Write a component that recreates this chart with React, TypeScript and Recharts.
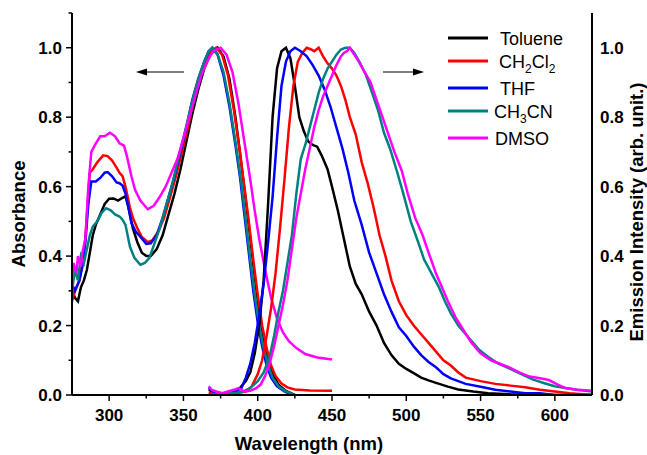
import React from "react";
import { LineChart, Line, XAxis, YAxis } from "recharts";

// [wavelength nm, normalized value]
const tolueneAbs = [
  [275, 0.30], [277, 0.28], [279, 0.27], [281, 0.31], [283, 0.33], [285, 0.36], [287, 0.41], [289, 0.46],
  [291, 0.49], [294, 0.52], [297, 0.55], [300, 0.565], [303, 0.566], [306, 0.56], [309, 0.568], [311, 0.572],
  [313, 0.54], [316, 0.48], [319, 0.44], [322, 0.41], [325, 0.40], [328, 0.40], [332, 0.42], [336, 0.46],
  [340, 0.52], [344, 0.58], [348, 0.65], [352, 0.73], [356, 0.81], [360, 0.88], [364, 0.94], [368, 0.98],
  [373, 1.0], [377, 0.975], [381, 0.91], [385, 0.80], [388, 0.70], [392, 0.56], [395, 0.45], [398, 0.34],
  [401, 0.24], [404, 0.16], [407, 0.10], [410, 0.06], [414, 0.03], [419, 0.012], [425, 0.0],
];
const dcmAbs = [
  [275, 0.27], [277, 0.30], [280, 0.33], [282, 0.38], [284, 0.45], [286, 0.58], [287, 0.64], [289, 0.65],
  [292, 0.67], [296, 0.69], [299, 0.688], [302, 0.675], [305, 0.655], [307, 0.64], [309, 0.63], [311, 0.60],
  [314, 0.54], [316, 0.51], [319, 0.48], [322, 0.455], [326, 0.44], [329, 0.445], [333, 0.47], [337, 0.51],
  [341, 0.57], [345, 0.63], [349, 0.70], [353, 0.77], [357, 0.85], [361, 0.91], [365, 0.96], [369, 0.99],
  [372, 1.0], [376, 0.98], [380, 0.92], [384, 0.82], [388, 0.70], [391, 0.60], [394, 0.50], [397, 0.39],
  [400, 0.29], [403, 0.20], [406, 0.135], [409, 0.085], [412, 0.055], [416, 0.033], [420, 0.022],
  [425, 0.016], [435, 0.013], [450, 0.012],
];
const thfAbs = [
  [275, 0.32], [277, 0.30], [280, 0.33], [282, 0.37], [284, 0.44], [286, 0.55], [288, 0.615], [291, 0.615],
  [294, 0.625], [297, 0.64], [299, 0.642], [302, 0.63], [305, 0.612], [307, 0.61], [309, 0.603], [311, 0.58],
  [313, 0.54], [315, 0.495], [318, 0.47], [321, 0.456], [325, 0.435], [328, 0.437], [332, 0.46], [336, 0.51],
  [340, 0.57], [344, 0.63], [348, 0.70], [352, 0.77], [356, 0.85], [360, 0.91], [364, 0.96], [367, 0.99],
  [369.5, 1.0], [373, 0.98], [377, 0.92], [381, 0.83], [385, 0.72], [388, 0.63], [391, 0.52], [394, 0.41],
  [397, 0.30], [400, 0.21], [403, 0.14], [406, 0.085], [409, 0.05], [413, 0.025], [418, 0.01], [423, 0.0],
];
const mecnAbs = [
  [275, 0.30], [277, 0.36], [279, 0.33], [281, 0.40], [283, 0.38], [285, 0.42], [287, 0.46], [289, 0.485],
  [292, 0.50], [295, 0.525], [298, 0.538], [301, 0.532], [304, 0.52], [307, 0.514], [309, 0.505], [311, 0.49],
  [314, 0.427], [317, 0.395], [321, 0.375], [324, 0.38], [327, 0.394], [330, 0.43], [334, 0.48], [338, 0.54],
  [342, 0.60], [346, 0.67], [350, 0.74], [355, 0.83], [360, 0.91], [364, 0.96], [367, 0.99], [369.5, 1.0],
  [373, 0.98], [377, 0.93], [381, 0.84], [385, 0.73], [389, 0.61], [392, 0.50], [395, 0.39], [398, 0.29],
  [401, 0.20], [404, 0.135], [407, 0.085], [410, 0.05], [414, 0.025], [419, 0.01], [425, 0.0],
];
const dmsoAbs = [
  [275, 0.33], [276, 0.38], [278, 0.35], [279, 0.40], [281, 0.37], [282, 0.41], [284, 0.45], [286, 0.60],
  [288, 0.70], [290.5, 0.72], [294, 0.745], [297, 0.745], [300.5, 0.755], [304, 0.745], [307, 0.725],
  [310, 0.718], [312, 0.687], [315, 0.63], [317.5, 0.59], [321, 0.56], [326, 0.535], [330, 0.545],
  [334, 0.57], [338, 0.60], [342, 0.64], [346, 0.68], [350, 0.74], [354, 0.80], [358, 0.86], [362, 0.92],
  [366, 0.96], [370, 0.99], [375, 1.0], [379, 0.98], [383, 0.93], [387, 0.84], [391, 0.73], [395, 0.62],
  [398, 0.53], [401, 0.45], [405, 0.36], [409, 0.28], [413, 0.22], [417, 0.18], [421, 0.155], [426, 0.135],
  [432, 0.118], [440, 0.108], [450, 0.102],
];

const tolueneEm = [
  [367, 0.015], [372, 0.005], [378, 0.005], [384, 0.01], [388, 0.02], [392, 0.04], [395, 0.065], [398, 0.12],
  [401, 0.2], [404, 0.33], [407, 0.55], [410, 0.8], [413, 0.94], [416, 0.99], [419, 1.0], [422, 0.97],
  [425, 0.89], [428, 0.8], [431, 0.76], [434, 0.73], [437, 0.72], [440, 0.715], [443, 0.69], [447, 0.65],
  [450, 0.6], [454, 0.53], [458, 0.45], [462, 0.37], [466, 0.32], [470, 0.29], [475, 0.24], [480, 0.2],
  [485, 0.15], [490, 0.115], [495, 0.09], [500, 0.075], [505, 0.063], [510, 0.05], [515, 0.042],
  [520, 0.035], [528, 0.024], [535, 0.016], [545, 0.01], [555, 0.005], [570, 0.002], [590, 0.0], [625, 0.0],
];
const dcmEm = [
  [367, 0.005], [375, 0.005], [385, 0.005], [392, 0.01], [396, 0.025], [400, 0.06], [403, 0.1], [406, 0.17],
  [409, 0.25], [412, 0.35], [415, 0.48], [418, 0.62], [421, 0.77], [424, 0.89], [427, 0.96], [430, 0.985],
  [433, 1.0], [436, 0.995], [438, 0.99], [441, 1.0], [444, 0.975], [447, 0.955], [450, 0.94], [453, 0.92],
  [456, 0.89], [459, 0.85], [462, 0.8], [466, 0.75], [470, 0.67], [474, 0.61], [478, 0.54], [482, 0.46],
  [486, 0.4], [490, 0.33], [495, 0.27], [500, 0.23], [505, 0.2], [510, 0.175], [515, 0.15], [520, 0.125],
  [525, 0.1], [530, 0.085], [535, 0.065], [540, 0.05], [550, 0.04], [560, 0.032], [570, 0.027],
  [580, 0.022], [590, 0.015], [600, 0.01], [610, 0.005], [625, 0.0],
];
const thfEm = [
  [367, 0.02], [370, 0.01], [375, 0.005], [380, 0.005], [385, 0.01], [389, 0.02], [392, 0.05], [395, 0.09],
  [398, 0.15], [401, 0.23], [404, 0.32], [407, 0.44], [410, 0.57], [413, 0.74], [416, 0.89], [419, 0.96],
  [422, 0.99], [425, 1.0], [429, 0.99], [433, 0.975], [437, 0.95], [441, 0.92], [445, 0.88], [449, 0.83],
  [453, 0.77], [457, 0.71], [461, 0.64], [465, 0.56], [470, 0.49], [475, 0.41], [480, 0.35], [485, 0.29],
  [490, 0.24], [495, 0.195], [500, 0.17], [505, 0.14], [510, 0.115], [515, 0.095], [520, 0.08],
  [525, 0.06], [530, 0.048], [540, 0.032], [550, 0.024], [560, 0.015], [570, 0.01], [580, 0.005],
  [590, 0.005], [600, 0.0], [625, 0.0],
];
const mecnEm = [
  [367, 0.0], [375, 0.005], [385, 0.005], [390, 0.01], [395, 0.02], [400, 0.04], [404, 0.065], [408, 0.11],
  [411, 0.17], [414, 0.24], [417, 0.3], [420, 0.38], [423, 0.46], [426, 0.58], [429, 0.68], [432, 0.72],
  [435, 0.77], [438, 0.82], [441, 0.87], [444, 0.91], [447, 0.94], [450, 0.96], [453, 0.98], [456, 0.995],
  [459, 1.0], [462, 1.0], [465, 0.985], [469, 0.955], [473, 0.92], [477, 0.87], [481, 0.82], [485, 0.755],
  [489, 0.71], [494, 0.64], [498, 0.58], [503, 0.5], [508, 0.44], [512, 0.39], [517, 0.35], [522, 0.31],
  [526, 0.27], [530, 0.235], [535, 0.2], [540, 0.175], [545, 0.15], [549, 0.13], [555, 0.11], [562, 0.09],
  [570, 0.075], [576, 0.063], [585, 0.045], [593, 0.034], [600, 0.025], [607, 0.02], [615, 0.015],
  [625, 0.01],
];
const dmsoEm = [
  [367, 0.025], [369, 0.015], [372, 0.01], [376, 0.005], [380, 0.01], [384, 0.015], [387, 0.02], [391, 0.01],
  [395, 0.012], [399, 0.02], [402, 0.03], [405, 0.055], [408, 0.09], [411, 0.14], [414, 0.2], [417, 0.26],
  [420, 0.33], [423, 0.42], [426, 0.51], [429, 0.58], [432, 0.65], [435, 0.71], [438, 0.77], [441, 0.82],
  [444, 0.86], [447, 0.89], [450, 0.92], [453, 0.95], [456, 0.975], [458, 0.985], [460, 0.99], [462, 1.0],
  [465, 0.98], [468, 0.96], [472, 0.93], [476, 0.9], [480, 0.85], [484, 0.8], [488, 0.75], [492, 0.7],
  [497, 0.645], [501, 0.58], [506, 0.51], [511, 0.46], [515, 0.41], [520, 0.35], [524, 0.31], [528, 0.27],
  [533, 0.225], [538, 0.19], [544, 0.15], [550, 0.12], [557, 0.1], [563, 0.09], [569, 0.08], [576, 0.065],
  [583, 0.053], [590, 0.048], [596, 0.043], [602, 0.03], [607, 0.02], [615, 0.015], [625, 0.012],
];

const xTicks = [325, 350, 375, 400, 425, 450, 475, 500, 525, 550, 575, 600, 300];
const yTicks = [0, 0.1, 0.2, 0.3, 0.4, 0.5, 0.6, 0.7, 0.8, 0.9, 1.0, 1.1];
const yLabels = [0, 0.2, 0.4, 0.6, 0.8, 1.0];

const FONT = "Arial, 'Liberation Sans', sans-serif";

const series = [
  { name: "Toluene", color: "#000000", abs: tolueneAbs, em: tolueneEm },
  { name: "CH2Cl2", color: "#ff0000", abs: dcmAbs, em: dcmEm },
  { name: "THF", color: "#0000ff", abs: thfAbs, em: thfEm },
  { name: "CH3CN", color: "#008080", abs: mecnAbs, em: mecnEm },
  { name: "DMSO", color: "#ff00ff", abs: dmsoAbs, em: dmsoEm },
];

const toPoints = (arr: number[][]) => arr.map(([x, y]) => ({ x, y }));

function XTick({ x, y, payload }: any) {
  const major = payload.value % 50 === 0;
  return (
    <g>
      <line x1={x} x2={x} y1={y} y2={y + (major ? 6 : 3.5)} stroke="#000" strokeWidth={1.5} />
      {major && (
        <text x={x} y={y + 26} textAnchor="middle" fontSize={17} fontWeight="bold" fontFamily={FONT} fill="#000">
          {payload.value}
        </text>
      )}
    </g>
  );
}

function LeftTick({ x, y, payload }: any) {
  const v = payload.value;
  const major = yLabels.some((l) => Math.abs(l - v) < 1e-6);
  return (
    <g>
      <line x1={x - (major ? 6 : 3.5)} x2={x} y1={y} y2={y} stroke="#000" strokeWidth={1.5} />
      {major && (
        <text x={x - 10} y={y + 6} textAnchor="end" fontSize={17} fontWeight="bold" fontFamily={FONT} fill="#000">
          {v.toFixed(1)}
        </text>
      )}
    </g>
  );
}

function RightTick({ x, y, payload }: any) {
  return (
    <text x={x + 8} y={y + 6} textAnchor="start" fontSize={17} fontWeight="bold" fontFamily={FONT} fill="#000">
      {payload.value.toFixed(1)}
    </text>
  );
}

function Arrow({ x1, x2, y }: { x1: number; x2: number; y: number }) {
  const dir = x2 > x1 ? 1 : -1;
  return (
    <g>
      <line x1={x1} x2={x2 - dir * 8} y1={y} y2={y} stroke="#000" strokeWidth={1.2} />
      <polygon points={`${x2},${y} ${x2 - dir * 11},${y - 3.5} ${x2 - dir * 11},${y + 3.5}`} fill="#000" />
    </g>
  );
}

function LegendLabel({ name, x, y }: { name: string; x: number; y: number }) {
  const sub = (d: string) => (
    <>
      <tspan dy={5} fontSize={12}>{d}</tspan>
      <tspan dy={-5}></tspan>
    </>
  );
  let content: React.ReactNode = name;
  if (name === "CH2Cl2")
    content = (
      <>
        CH<tspan dy={5} fontSize={12}>2</tspan>
        <tspan dy={-5}>Cl</tspan>
        <tspan dy={5} fontSize={12}>2</tspan>
      </>
    );
  if (name === "CH3CN")
    content = (
      <>
        CH<tspan dy={5} fontSize={12}>3</tspan>
        <tspan dy={-5}>CN</tspan>
      </>
    );
  void sub;
  return (
    <text x={x} y={y} fontSize={18} fontFamily={FONT} fill="#000">
      {content}
    </text>
  );
}

const legendRows = [
  { y: 38, tx: 500 },
  { y: 61, tx: 499 },
  { y: 88, tx: 500 },
  { y: 111, tx: 494 },
  { y: 138, tx: 495 },
];

export default function App() {
  return (
    <div style={{ position: "absolute", left: 0, top: 0, width: 647, height: 455, background: "#fff" }}>
      <LineChart width={647} height={455} margin={{ top: 13, right: 0, bottom: 0, left: 0 }}>
        <XAxis
          dataKey="x"
          type="number"
          domain={[275, 625]}
          allowDataOverflow
          ticks={xTicks}
          interval={0}
          height={60}
          tickSize={0}
          tickMargin={0}
          tickLine={false}
          axisLine={{ stroke: "#000", strokeWidth: 2 }}
          tick={<XTick />}
        />
        <YAxis
          yAxisId="abs"
          orientation="left"
          domain={[0, 1.1]}
          allowDataOverflow
          ticks={yTicks}
          interval={0}
          width={72}
          tickSize={0}
          tickMargin={0}
          tickLine={false}
          axisLine={{ stroke: "#000", strokeWidth: 2 }}
          tick={<LeftTick />}
        />
        <YAxis
          yAxisId="em"
          orientation="right"
          domain={[0, 1.1]}
          allowDataOverflow
          ticks={yLabels}
          interval={0}
          width={55}
          tickSize={0}
          tickMargin={0}
          tickLine={false}
          axisLine={{ stroke: "#000", strokeWidth: 2 }}
          tick={<RightTick />}
        />
        {series.map((s) => (
          <Line
            key={s.name + "-abs"}
            yAxisId="abs"
            data={toPoints(s.abs)}
            dataKey="y"
            type="linear"
            stroke={s.color}
            strokeWidth={2.5}
            dot={false}
            activeDot={false}
            isAnimationActive={false}
          />
        ))}
        {series.map((s) => (
          <Line
            key={s.name + "-em"}
            yAxisId="em"
            data={toPoints(s.em)}
            dataKey="y"
            type="linear"
            stroke={s.color}
            strokeWidth={2.5}
            dot={false}
            activeDot={false}
            isAnimationActive={false}
          />
        ))}
      </LineChart>
      <svg width={647} height={455} style={{ position: "absolute", left: 0, top: 0, pointerEvents: "none" }}>
        <Arrow x1={184} x2={136} y={72} />
        <Arrow x1={383} x2={424} y={72} />
        {series.map((s, i) => (
          <g key={s.name}>
            <line x1={448} x2={488} y1={legendRows[i].y} y2={legendRows[i].y} stroke={s.color} strokeWidth={3} />
            <LegendLabel name={s.name} x={legendRows[i].tx} y={legendRows[i].y + 6.5} />
          </g>
        ))}
        <text transform="translate(25,214) rotate(-90)" textAnchor="middle" fontSize={18.5} fontWeight="bold" fontFamily={FONT}>
          Absorbance
        </text>
        <text x={309} y={450} textAnchor="middle" fontSize={18.5} fontWeight="bold" fontFamily={FONT}>
          Wavelength (nm)
        </text>
        <text transform="translate(643,212) rotate(-90)" textAnchor="middle" fontSize={18.5} fontWeight="bold" fontFamily={FONT}>
          Emission Intensity (arb. unit.)
        </text>
      </svg>
    </div>
  );
}
